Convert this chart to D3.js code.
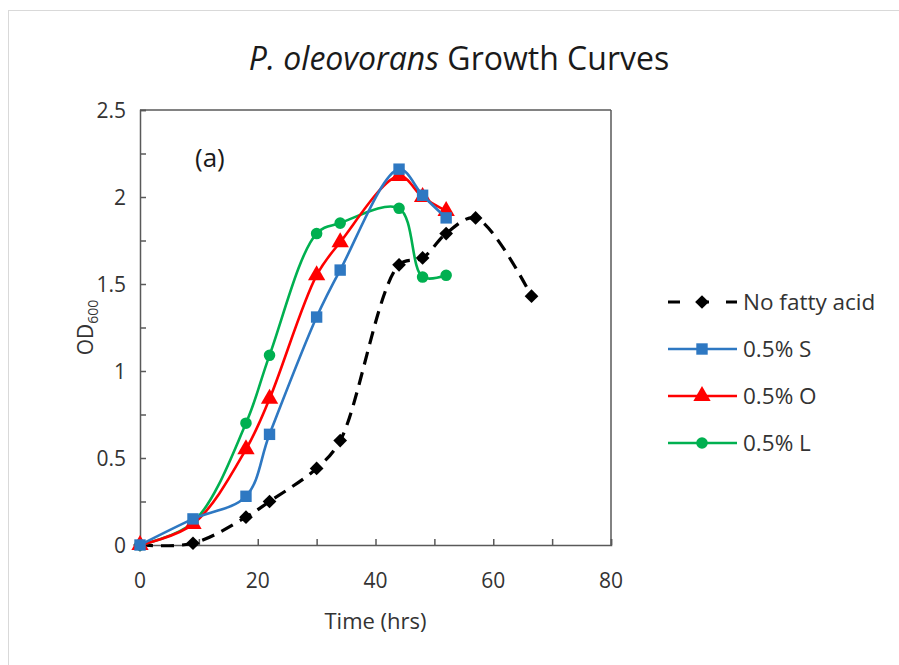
<!DOCTYPE html>
<html><head><meta charset="utf-8">
<script src="https://cdn.jsdelivr.net/npm/d3@7"></script>
<style>body{margin:0;background:#fff;} svg{display:block;}</style>
</head><body>
<svg id="chart" width="899" height="665"></svg>
<script>
const seriesNames = ["No fatty acid", "0.5% S", "0.5% O", "0.5% L"];
const timeNone = [0, 9, 18, 22, 30, 34, 44, 48, 52, 57, 66.5];
const odNone   = [0, 0.01, 0.16, 0.25, 0.44, 0.60, 1.61, 1.65, 1.79, 1.88, 1.43];
const timeFA = [0, 9, 18, 22, 30, 34, 44, 48, 52];
const odS = [0, 0.15, 0.28, 0.636, 1.31, 1.58, 2.16, 2.01, 1.88];
const odO = [0, 0.12, 0.55, 0.84, 1.55, 1.74, 2.12, 2.00, 1.92];
const odL = [0, 0.13, 0.70, 1.09, 1.79, 1.85, 1.935, 1.54, 1.55];
const xTicks = [0, 20, 40, 60, 80];
const yTicks = [0, 0.5, 1, 1.5, 2, 2.5];

const colors = ["#000000", "#2E78C2", "#FF0000", "#00B050"];
const symbols = [d3.symbolDiamond2, d3.symbolSquare, d3.symbolTriangle, d3.symbolCircle];
const symSizes = [120, 130, 130, 105];

const font = "'Open Sans', Lato, sans-serif";
const textColor = "#333333";
const svg = d3.select("#chart");
svg.append("rect").attr("x", 8.5).attr("y", 10.5).attr("width", 1000).attr("height", 1000)
  .attr("fill", "#fff").attr("stroke", "#d9d9d9").attr("stroke-width", 1);

const L = 140, R = 611, T = 110, B = 545;
const x = d3.scaleLinear().domain([0, 80]).range([L, R]);
const y = d3.scaleLinear().domain([0, 2.5]).range([B, T]);

// title
const title = svg.append("text").attr("x", 459).attr("y", 70).attr("text-anchor", "middle")
  .attr("font-family", font).attr("font-size", 32).attr("fill", "#1a1a1a");
title.append("tspan").attr("font-style", "italic").text("P. oleovorans");
title.append("tspan").text(" Growth Curves");

// axes
const axisColor = "#595959";
const gx = svg.append("g").attr("transform", `translate(0,${B})`)
  .call(d3.axisBottom(x).tickValues(d3.range(0, 81, 10)).tickSize(-6).tickFormat(""));
const gy = svg.append("g").attr("transform", `translate(${L},0)`)
  .call(d3.axisLeft(y).tickValues(d3.range(0, 2.51, 0.25)).tickSize(-6).tickFormat(""));
[gx, gy].forEach(g => {
  g.selectAll("path").attr("stroke", axisColor).attr("stroke-width", 1.5);
  g.selectAll("line").attr("stroke", axisColor).attr("stroke-width", 1.5);
});
svg.append("line").attr("x1", L).attr("x2", R).attr("y1", T).attr("y2", T).attr("stroke", axisColor).attr("stroke-width", 1.5);
svg.append("line").attr("x1", R).attr("x2", R).attr("y1", T).attr("y2", B).attr("stroke", axisColor).attr("stroke-width", 1.5);

// tick labels
svg.append("g").selectAll("text").data(xTicks).join("text")
  .attr("x", d => x(d)).attr("y", B + 43).attr("text-anchor", "middle")
  .attr("font-family", font).attr("font-size", 21).attr("fill", textColor).text(d => d);
svg.append("g").selectAll("text").data(yTicks).join("text")
  .attr("x", L - 14).attr("y", d => y(d) + 8).attr("text-anchor", "end")
  .attr("font-family", font).attr("font-size", 21).attr("fill", textColor).text(d => d);

// axis titles
svg.append("text").attr("x", x(40)).attr("y", 629).attr("text-anchor", "middle")
  .attr("font-family", font).attr("font-size", 22).attr("fill", textColor).text("Time (hrs)");
const yl = svg.append("text").attr("transform", `translate(93,${(T + B) / 2}) rotate(-90)`)
  .attr("text-anchor", "middle").attr("font-family", font).attr("font-size", 21).attr("fill", textColor);
yl.append("tspan").text("OD");
yl.append("tspan").attr("font-size", 14).attr("dy", 5).text("600");

svg.append("text").attr("x", 195).attr("y", 167).attr("font-family", font).attr("font-size", 26)
  .attr("fill", "#1a1a1a").text("(a)");

const data = [
  timeNone.map((t, i) => [t, odNone[i]]),
  timeFA.map((t, i) => [t, odS[i]]),
  timeFA.map((t, i) => [t, odO[i]]),
  timeFA.map((t, i) => [t, odL[i]])
];
const line = d3.line().x(d => x(d[0])).y(d => y(d[1])).curve(d3.curveCatmullRom.alpha(0.5));

const order = [0, 3, 2, 1];
order.forEach(i => {
  const g = svg.append("g");
  g.append("path").attr("d", line(data[i])).attr("fill", "none").attr("stroke", colors[i])
    .attr("stroke-width", i === 0 ? 3.2 : 2.6)
    .attr("stroke-dasharray", i === 0 ? "13,8" : null);
  g.selectAll("path.m").data(data[i]).join("path").attr("class", "m")
    .attr("transform", d => `translate(${x(d[0])},${y(d[1])})`)
    .attr("d", d3.symbol().type(symbols[i]).size(symSizes[i])())
    .attr("fill", colors[i]);
});

// legend
const legY = [302, 349, 396, 443];
seriesNames.forEach((name, i) => {
  const g = svg.append("g").attr("transform", `translate(0,${legY[i]})`);
  g.append("line").attr("x1", 668).attr("x2", 737).attr("y1", 0).attr("y2", 0)
    .attr("stroke", colors[i]).attr("stroke-width", i === 0 ? 3.2 : 2.6)
    .attr("stroke-dasharray", i === 0 ? "12,17" : null);
  g.append("path").attr("transform", "translate(702,0)")
    .attr("d", d3.symbol().type(symbols[i]).size(symSizes[i])()).attr("fill", colors[i]);
  g.append("text").attr("x", 743).attr("y", 8).attr("font-family", font).attr("font-size", 22.5)
    .attr("fill", textColor).text(name);
});
</script>
</body></html>
